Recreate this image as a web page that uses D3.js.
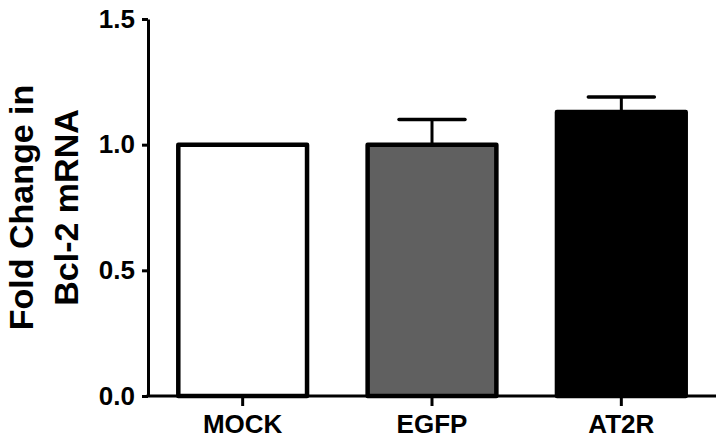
<!DOCTYPE html>
<html>
<head>
<meta charset="utf-8">
<script src="https://cdn.jsdelivr.net/npm/d3@7"></script>
<style>
  body { margin: 0; background: #fff; }
  svg { display: block; }
  text { font-family: "Liberation Sans", Arial, sans-serif; font-weight: bold; }
</style>
</head>
<body>
<div id="container"></div>
<script>
var width = 724,
    height = 442;

// data
var groups = ["MOCK", "EGFP", "AT2R"];
var means = [1.0, 1.0, 1.13];
var errors = [0, 0.1, 0.06];
var fills = ["#ffffff", "#606060", "#000000"];
var yTicks = [0, 0.5, 1.0, 1.5];

var plotLeft = 148, plotRight = 716, plotTop = 19, plotBottom = 396;

var svg = d3.select("#container").append("svg")
    .attr("width", width)
    .attr("height", height);

var x = d3.scaleBand()
    .domain(groups)
    .range([plotLeft, plotRight])
    .paddingInner(0.32)
    .paddingOuter(0.16);

var y = d3.scaleLinear()
    .domain([0, 1.5])
    .range([plotBottom, plotTop]);

// bars
svg.selectAll("rect.bar")
    .data(groups)
    .enter().append("rect")
    .attr("class", "bar")
    .attr("x", d => x(d))
    .attr("width", x.bandwidth())
    .attr("y", (d, i) => y(means[i]))
    .attr("height", (d, i) => y(0) - y(means[i]))
    .attr("fill", (d, i) => fills[i])
    .attr("stroke", "#000")
    .attr("stroke-width", 4.5)
    .attr("stroke-linejoin", "round");

// error bars (upper only)
var capHalf = 33;
groups.forEach(function (g, i) {
    if (!errors[i]) return;
    var cx = x(g) + x.bandwidth() / 2;
    svg.append("line")
        .attr("x1", cx).attr("x2", cx)
        .attr("y1", y(means[i])).attr("y2", y(means[i] + errors[i]))
        .attr("stroke", "#000").attr("stroke-width", 3);
    svg.append("line")
        .attr("x1", cx - capHalf).attr("x2", cx + capHalf)
        .attr("y1", y(means[i] + errors[i])).attr("y2", y(means[i] + errors[i]))
        .attr("stroke", "#000").attr("stroke-width", 3.5)
        .attr("stroke-linecap", "round");
});

// y axis
var yAxis = svg.append("g")
    .attr("transform", "translate(" + plotLeft + ",0)")
    .call(d3.axisLeft(y).tickValues(yTicks).tickFormat(d3.format(".1f")).tickSize(6).tickSizeOuter(0).tickPadding(7));
yAxis.select(".domain").attr("stroke-width", 3);
yAxis.selectAll(".tick line").attr("stroke-width", 3);
yAxis.selectAll(".tick text").attr("font-size", 26).attr("fill", "#000");

// x axis
var xAxis = svg.append("g")
    .attr("transform", "translate(0," + plotBottom + ")")
    .call(d3.axisBottom(x).tickSize(10).tickSizeOuter(0).tickPadding(9));
xAxis.select(".domain").attr("stroke-width", 3)
    .attr("d", "M" + (plotLeft - 1.5) + ",0H" + plotRight);
xAxis.selectAll(".tick line").attr("stroke-width", 3);
xAxis.selectAll(".tick text").attr("font-size", 26).attr("fill", "#000");

// y title
var title = svg.append("text")
    .attr("transform", "translate(33," + ((plotTop + plotBottom) / 2) + ") rotate(-90)")
    .attr("text-anchor", "middle")
    .attr("font-size", 34)
    .attr("fill", "#000");
title.append("tspan").attr("x", 0).attr("dy", 0).text("Fold Change in");
title.append("tspan").attr("x", 0).attr("dy", 45).text("Bcl-2 mRNA");
</script>
</body>
</html>
